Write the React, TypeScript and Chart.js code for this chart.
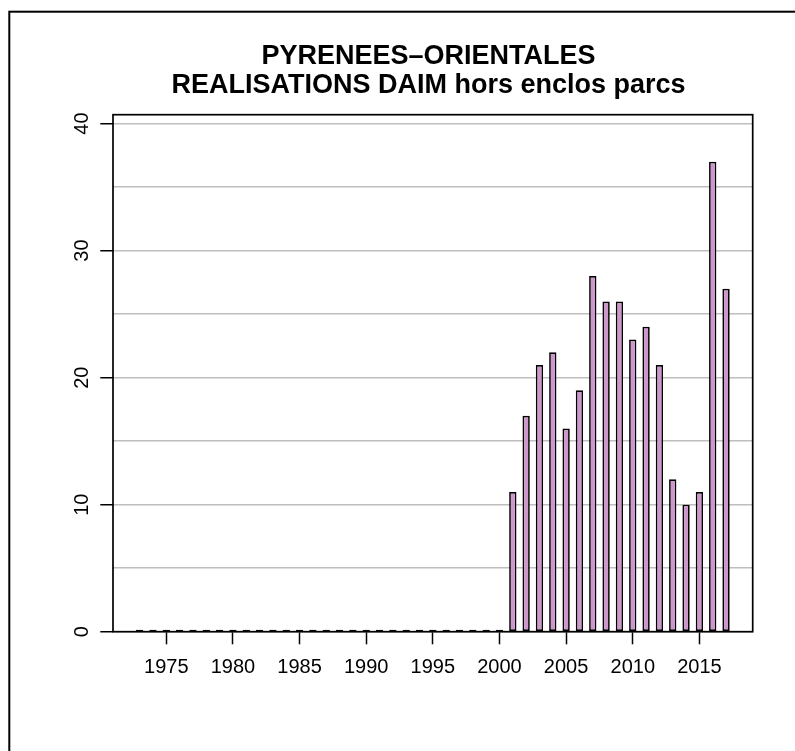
import React, { useEffect, useRef } from 'react';
import { Chart, registerables } from 'chart.js';

Chart.register(...registerables);

const years = [
  1973, 1974, 1975, 1976, 1977, 1978, 1979, 1980, 1981, 1982,
  1983, 1984, 1985, 1986, 1987, 1988, 1989, 1990, 1991, 1992,
  1993, 1994, 1995, 1996, 1997, 1998, 1999, 2000, 2001, 2002,
  2003, 2004, 2005, 2006, 2007, 2008, 2009, 2010, 2011, 2012,
  2013, 2014, 2015, 2016, 2017,
];
const realisations = [
  0, 0, 0, 0, 0, 0, 0, 0, 0, 0,
  0, 0, 0, 0, 0, 0, 0, 0, 0, 0,
  0, 0, 0, 0, 0, 0, 0, 0, 11, 17,
  21, 22, 16, 19, 28, 26, 26, 23, 24, 21,
  12, 10, 11, 37, 27,
];
const xTickValues = [1975, 1980, 1985, 1990, 1995, 2000, 2005, 2010, 2015];
const yGridValues = [0, 5, 10, 15, 20, 25, 30, 35, 40];
const yLabelValues = [0, 10, 20, 30, 40];
const titleLines = ['PYRENEES\u2013ORIENTALES', 'REALISATIONS DAIM hors enclos parcs'];

const FONT = '"Liberation Sans", Arial, Helvetica, sans-serif';

const framePlugin = {
  id: 'framePlugin',
  afterDraw(chart: any) {
    const ctx = chart.ctx;
    ctx.save();
    ctx.strokeStyle = '#000';
    ctx.lineWidth = 2;
    ctx.strokeRect(9.3, 11.7, 900, 900);
    ctx.restore();
  },
};

const titlePlugin = {
  id: 'titlePlugin',
  afterDraw(chart: any) {
    const ctx = chart.ctx;
    ctx.save();
    ctx.fillStyle = '#000';
    ctx.font = `bold 27px ${FONT}`;
    ctx.textAlign = 'center';
    ctx.textBaseline = 'middle';
    titleLines.forEach((line, i) => {
      ctx.fillText(line, 428.5, 57 + i * 29);
    });
    ctx.restore();
  },
};

const boxPlugin = {
  id: 'boxPlugin',
  afterDatasetsDraw(chart: any) {
    const { ctx, chartArea } = chart;
    ctx.save();
    ctx.strokeStyle = '#000';
    ctx.lineWidth = 1.7;
    ctx.strokeRect(chartArea.left, chartArea.top, chartArea.right - chartArea.left, chartArea.bottom - chartArea.top);
    ctx.restore();
  },
};

export default function App() {
  const ref = useRef<HTMLCanvasElement>(null);

  useEffect(() => {
    if (!ref.current) return;
    const chart = new Chart(ref.current, {
      type: 'bar',
      data: {
        datasets: [
          {
            data: years.map((y, i) => ({ x: y, y: realisations[i] })),
            backgroundColor: '#CD96CD',
            borderColor: '#000',
            borderWidth: 1.7,
            borderSkipped: false,
            minBarLength: 2,
            barPercentage: 0.55,
            categoryPercentage: 1,
          },
        ],
      },
      options: {
        animation: false,
        responsive: false,
        devicePixelRatio: 1,
        layout: { padding: { left: 0, right: 42.3, top: 114.7, bottom: 0 } },
        plugins: {
          legend: { display: false },
          tooltip: { enabled: false },
          title: { display: false },
        },
        scales: {
          x: {
            type: 'linear',
            min: 1971,
            max: 2019,
            offset: false,
            afterBuildTicks: (scale: any) => {
              scale.ticks = xTickValues.map((v) => ({ value: v }));
            },
            afterFit: (scale: any) => {
              scale.height = 119.3;
            },
            grid: {
              offset: false,
              drawOnChartArea: false,
              drawTicks: true,
              tickLength: 12.6,
              tickColor: '#000',
              tickWidth: 1.5,
            },
            border: { display: false },
            ticks: {
              color: '#000',
              font: { family: FONT, size: 20 },
              padding: 11.2,
              maxRotation: 0,
              minRotation: 0,
              autoSkip: false,
              callback: (v: any) => String(v),
            },
          },
          y: {
            type: 'linear',
            min: 0,
            max: 40.7,
            afterBuildTicks: (scale: any) => {
              scale.ticks = yGridValues.map((v) => ({ value: v }));
            },
            afterFit: (scale: any) => {
              scale.width = 113;
            },
            grid: {
              color: '#BEBEBE',
              lineWidth: 1.5,
              drawTicks: true,
              tickLength: 12.7,
              tickWidth: 1.5,
              tickColor: (c: any) => (yLabelValues.includes(c.tick?.value) ? '#000' : 'rgba(0,0,0,0)'),
            },
            border: { display: false },
            ticks: {
              color: '#000',
              font: { family: FONT, size: 20 },
              padding: 6.5,
              minRotation: 90,
              maxRotation: 90,
              crossAlign: 'center',
              autoSkip: false,
              callback: (v: any) => (yLabelValues.includes(v) ? String(v) : ''),
            },
          },
        },
      },
      plugins: [boxPlugin, titlePlugin, framePlugin],
    } as any);
    return () => chart.destroy();
  }, []);

  return (
    <div style={{ position: 'absolute', left: 0, top: 0, width: 795, height: 751, background: '#fff' }}>
      <canvas ref={ref} width={795} height={751} style={{ display: 'block' }} />
    </div>
  );
}
